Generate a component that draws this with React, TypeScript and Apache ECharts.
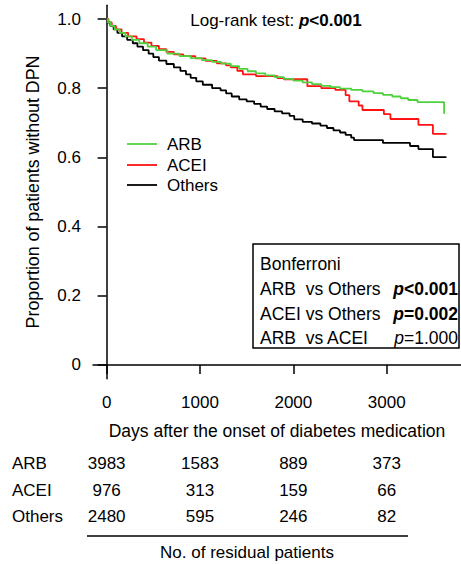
import React, { useEffect, useRef } from "react";
import * as echarts from "echarts";

const FONT = "'Liberation Sans', Arial, Helvetica, sans-serif";
const GREEN = "#4fd13d";
const RED = "#ff1212";
const BLACK = "#000000";

const yTicks = [0, 0.2, 0.4, 0.6, 0.8, 1.0];
const xTicks = [0, 1000, 2000, 3000];

// Kaplan-Meier curves: [day, survival proportion]
const arbCurve: [number, number][] = [
  [0, 1.0], [15, 0.99], [45, 0.98], [85, 0.97], [140, 0.96], [200, 0.95], [270, 0.94],
  [350, 0.93], [440, 0.92], [530, 0.91], [650, 0.9], [780, 0.893], [900, 0.887],
  [1020, 0.881], [1130, 0.876], [1230, 0.871], [1330, 0.864], [1420, 0.856], [1510, 0.849],
  [1600, 0.843], [1700, 0.837], [1800, 0.832], [1900, 0.827], [2000, 0.822], [2100, 0.817],
  [2200, 0.812], [2300, 0.807], [2400, 0.803], [2500, 0.799], [2620, 0.795], [2740, 0.791],
  [2860, 0.786], [2960, 0.781], [3060, 0.776], [3150, 0.771], [3230, 0.766], [3330, 0.76],
  [3615, 0.728], [3625, 0.728],
];

const aceiCurve: [number, number][] = [
  [0, 1.0], [20, 0.99], [55, 0.98], [100, 0.97], [160, 0.96], [230, 0.95], [320, 0.942],
  [400, 0.932], [480, 0.922], [560, 0.913], [640, 0.905], [720, 0.898], [820, 0.893],
  [950, 0.886], [1060, 0.879], [1180, 0.872], [1280, 0.866], [1330, 0.86], [1400, 0.85],
  [1460, 0.84], [1600, 0.835], [1830, 0.829], [1900, 0.826], [2150, 0.806], [2300, 0.8],
  [2450, 0.795], [2560, 0.78], [2600, 0.762], [2700, 0.75], [2740, 0.737], [2970, 0.725],
  [3040, 0.711], [3340, 0.694], [3495, 0.668], [3640, 0.668],
];

const othersCurve: [number, number][] = [
  [0, 1.0], [15, 0.99], [40, 0.98], [75, 0.97], [115, 0.96], [165, 0.95], [220, 0.94],
  [280, 0.93], [330, 0.92], [390, 0.91], [450, 0.9], [500, 0.89], [560, 0.88], [640, 0.87],
  [720, 0.86], [790, 0.85], [850, 0.84], [900, 0.83], [960, 0.82], [1030, 0.81], [1130, 0.8],
  [1220, 0.794], [1280, 0.785], [1340, 0.776], [1420, 0.768], [1500, 0.762], [1580, 0.755],
  [1650, 0.747], [1720, 0.74], [1800, 0.733], [1880, 0.727], [1960, 0.72], [2010, 0.71],
  [2100, 0.703], [2200, 0.698], [2290, 0.692], [2360, 0.685], [2430, 0.678], [2500, 0.672],
  [2560, 0.665], [2620, 0.657], [2650, 0.65], [2960, 0.642], [3250, 0.633], [3340, 0.624],
  [3495, 0.601], [3640, 0.601],
];

const groupNames = ["ARB", "ACEI", "Others"];
const groupColors = [GREEN, RED, BLACK];
const riskDays = [0, 1000, 2000, 3000];
const arbAtRisk = [3983, 1583, 889, 373];
const aceiAtRisk = [976, 313, 159, 66];
const othersAtRisk = [2480, 595, 246, 82];

const bonferroniLabels = ["ARB  vs Others", "ACEI vs Others", "ARB  vs ACEI"];
const bonferroniP = ["{pb|p}{b|<0.001}", "{pb|p}{b|=0.002}", "{pi|p}{n|=1.000}"];

export default function App() {
  const ref = useRef<HTMLDivElement>(null);

  useEffect(() => {
    if (!ref.current) return;
    const chart = echarts.init(ref.current, null, { renderer: "svg" });
    const curves = [arbCurve, aceiCurve, othersCurve];
    const order = [2, 1, 0];
    chart.setOption({
      animation: false,
      backgroundColor: "#ffffff",
      textStyle: { fontFamily: FONT },
      grid: { left: 93, top: 5.2, width: 373.5, height: 373.6, containLabel: false },
      xAxis: {
        type: "value",
        min: -146,
        max: 3796,
        name: "Days after the onset of diabetes medication",
        nameLocation: "middle",
        nameGap: 43,
        nameTextStyle: { fontFamily: FONT, fontSize: 17.5, color: "#000" },
        axisLine: { show: true, lineStyle: { color: "#000", width: 1.5 } },
        axisTick: { show: true, customValues: xTicks, length: 9, lineStyle: { color: "#000", width: 1.5 } },
        axisLabel: {
          customValues: xTicks,
          margin: 15,
          fontFamily: FONT,
          fontSize: 17,
          color: "#000",
          formatter: (v: number) => String(v),
        },
        splitLine: { show: false },
      },
      yAxis: {
        type: "value",
        min: -0.04,
        max: 1.04,
        name: "Proportion of patients without DPN",
        nameLocation: "middle",
        nameGap: 51,
        nameTextStyle: { fontFamily: FONT, fontSize: 17.8, color: "#000" },
        axisLine: { show: true, lineStyle: { color: "#000", width: 1.5 } },
        axisTick: { show: true, customValues: yTicks, length: 9, lineStyle: { color: "#000", width: 1.5 } },
        axisLabel: {
          customValues: yTicks,
          margin: 12,
          fontFamily: FONT,
          fontSize: 17,
          color: "#000",
          formatter: (v: number) => (Math.abs(v) < 1e-9 ? "0" : v.toFixed(1)),
        },
        splitLine: { show: false },
      },
      series: order.map((i) => ({
        type: "line",
        name: groupNames[i],
        step: "end",
        symbol: "none",
        showSymbol: false,
        data: curves[i],
        lineStyle: { color: groupColors[i], width: 1.8 },
        itemStyle: { color: groupColors[i] },
        z: 3 + (2 - i),
      })),
    });

    const xs = riskDays.map((d) => chart.convertToPixel({ xAxisIndex: 0 }, d) as number);
    const atRisk = [arbAtRisk, aceiAtRisk, othersAtRisk];
    const rowY = [463, 490, 516];
    const txt = (x: number, y: number, text: string, align: string, size = 17, extra: any = {}) => ({
      type: "text",
      x,
      y,
      silent: true,
      style: {
        text,
        fontFamily: FONT,
        fontSize: size,
        fill: "#000",
        align,
        verticalAlign: "middle",
        textAlign: align,
        textVerticalAlign: "middle",
        ...extra,
      },
    });

    const elements: any[] = [];
    // title
    elements.push(
      txt(276, 20, "Log-rank test: {bi|p}{b|<0.001}", "center", 17, {
        rich: {
          bi: { fontFamily: FONT, fontSize: 17, fontWeight: "bold", fontStyle: "italic", fill: "#000" },
          b: { fontFamily: FONT, fontSize: 17, fontWeight: "bold", fill: "#000" },
        },
      })
    );
    // legend
    const legY = [144, 165, 185];
    groupNames.forEach((g, i) => {
      elements.push({
        type: "line",
        silent: true,
        shape: { x1: 127, y1: legY[i], x2: 157, y2: legY[i] },
        style: { stroke: groupColors[i], lineWidth: 1.8 },
      });
      elements.push(txt(167, legY[i], g, "left"));
    });
    // Bonferroni box
    elements.push({
      type: "rect",
      silent: true,
      shape: { x: 253, y: 244, width: 206, height: 104 },
      style: { fill: "#fff", stroke: "#000", lineWidth: 1.5 },
      z: 10,
    });
    const boxRowY = [264, 289, 314, 338];
    const boxFont = 17.5;
    const richBox = {
      pb: { fontFamily: FONT, fontSize: boxFont, fontWeight: "bold", fontStyle: "italic", fill: "#000" },
      b: { fontFamily: FONT, fontSize: boxFont, fontWeight: "bold", fill: "#000" },
      pi: { fontFamily: FONT, fontSize: boxFont, fontStyle: "italic", fill: "#000" },
      n: { fontFamily: FONT, fontSize: boxFont, fill: "#000" },
    };
    const boxEl = (el: any) => ({ ...el, z: 11 });
    elements.push(boxEl(txt(260, boxRowY[0], "Bonferroni", "left", boxFont)));
    bonferroniLabels.forEach((l, i) => {
      elements.push(boxEl(txt(260, boxRowY[i + 1], l, "left", boxFont, { whiteSpace: "pre" })));
      elements.push(boxEl(txt(458, boxRowY[i + 1], bonferroniP[i], "right", boxFont, { rich: richBox })));
    });
    // number at risk table
    groupNames.forEach((g, r) => {
      elements.push(txt(12, rowY[r], g, "left"));
      atRisk[r].forEach((n, c) => {
        elements.push(txt(xs[c], rowY[r], String(n), "center"));
      });
    });
    elements.push({
      type: "line",
      silent: true,
      shape: { x1: 87, y1: 536, x2: 408, y2: 536 },
      style: { stroke: "#000", lineWidth: 1.5 },
    });
    elements.push(txt(247, 552, "No. of residual patients", "center"));

    chart.setOption({ graphic: { elements } });

    return () => chart.dispose();
  }, []);

  return (
    <div
      ref={ref}
      style={{ position: "fixed", left: 0, top: 0, width: 461, height: 564, background: "#fff" }}
    />
  );
}
